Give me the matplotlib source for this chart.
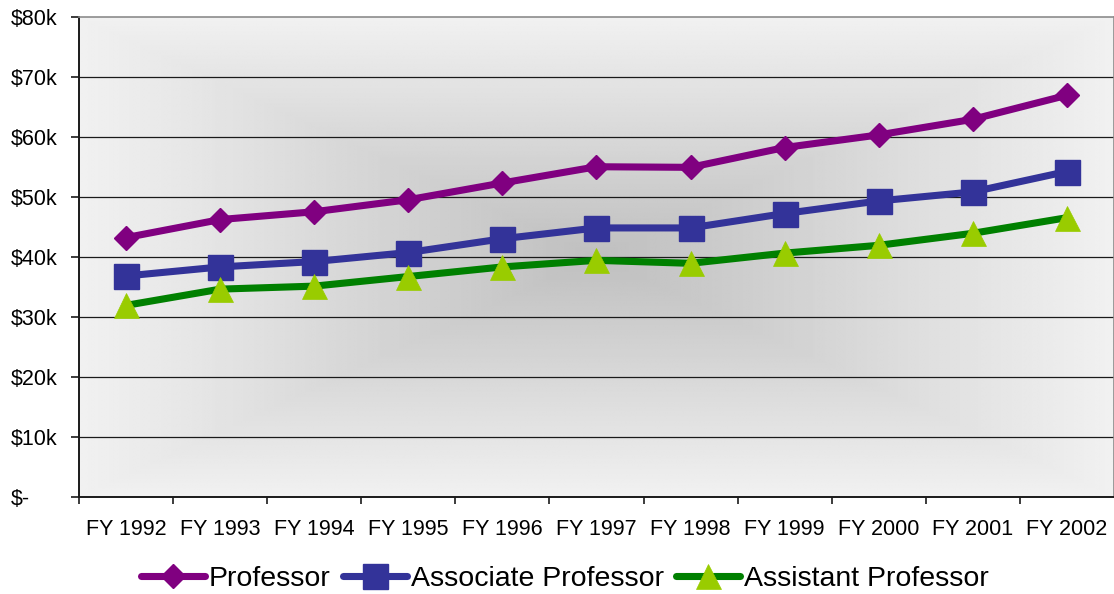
import numpy as np
import matplotlib
matplotlib.use("Agg")
import matplotlib.pyplot as plt

plt.rcParams["font.family"] = ["Liberation Sans", "DejaVu Sans"]

# average salary by rank, in $ thousands
years = ["FY 1992", "FY 1993", "FY 1994", "FY 1995", "FY 1996", "FY 1997",
         "FY 1998", "FY 1999", "FY 2000", "FY 2001", "FY 2002"]
professor = [43.2, 46.2, 47.5, 49.5, 52.3, 55.0, 54.9, 58.2, 60.3, 62.9, 66.9]
associate = [36.8, 38.3, 39.2, 40.7, 43.0, 44.8, 44.8, 47.2, 49.3, 50.8, 54.2]
assistant = [31.9, 34.6, 35.1, 36.7, 38.3, 39.4, 38.9, 40.6, 41.9, 43.9, 46.5]
y_ticks = [0, 10, 20, 30, 40, 50, 60, 70, 80]
y_labels = ["$-", "$10k", "$20k", "$30k", "$40k", "$50k", "$60k", "$70k", "$80k"]

fig = plt.figure(figsize=(11.14, 5.94), dpi=100)
ax = fig.add_axes([0.0712, 0.1638, 0.9285, 0.808])

n = len(years)
x = np.arange(n) + 0.5

# "from center" gradient fill of the plot area
gx = np.linspace(-1, 1, 400)
gy = np.linspace(-1, 1, 300)
u, v = np.meshgrid(gx, gy)
t = np.maximum(np.abs(u), np.abs(v))
shade = 0.75 + (0.945 - 0.75) * t
ax.imshow(shade, cmap="gray", vmin=0, vmax=1, extent=(0, n, 0, 80),
          aspect="auto", interpolation="bilinear", zorder=0)

ax.set_xlim(0, n)
ax.set_ylim(0, 80)

for yv in y_ticks[1:-1]:
    ax.axhline(yv, color="#1a1a1a", lw=0.9, zorder=1)

ax.plot(x, professor, color="#800080", lw=5.1, marker="D", ms=12.5,
        mfc="#800080", mec="#800080", solid_capstyle="round",
        label="Professor", zorder=3)
ax.plot(x, associate, color="#333399", lw=5.1, marker="s", ms=18,
        mfc="#333399", mec="#333399", solid_capstyle="round",
        label="Associate Professor", zorder=4)
ax.plot(x, assistant, color="#008000", lw=5.1, marker="^", ms=18,
        mfc="#99CC00", mec="#99CC00", mew=0.5, solid_capstyle="round",
        label="Assistant Professor", zorder=5)

# spines
for side in ["top", "right"]:
    ax.spines[side].set_color("#8c8c8c")
    ax.spines[side].set_linewidth(1.2)
for side in ["left", "bottom"]:
    ax.spines[side].set_color("#1a1a1a")
    ax.spines[side].set_linewidth(1.4)

# y axis
ax.set_yticks(y_ticks)
ax.set_yticklabels(y_labels, fontsize=15.5)
ax.tick_params(axis="y", direction="out", length=6, width=1.2, color="#1a1a1a", pad=43.5)
for lab in ax.get_yticklabels():
    lab.set_horizontalalignment("left")

# x axis: ticks at category boundaries, labels at centres
ax.set_xticks(np.arange(n))
ax.set_xticklabels([])
ax.set_xticks(x, minor=True)
ax.set_xticklabels(years, minor=True, fontsize=15.5)
ax.tick_params(axis="x", which="major", direction="out", length=5, width=1.2, color="#1a1a1a")
ax.tick_params(axis="x", which="minor", length=0, pad=16)

fig.legend(loc="center", bbox_to_anchor=(0.507, 0.025), ncol=3, frameon=False,
           fontsize=20.5, handlelength=2.25, handletextpad=0.12, columnspacing=0.45,
           numpoints=1, borderaxespad=0)

fig.savefig("out.png", dpi=100)
